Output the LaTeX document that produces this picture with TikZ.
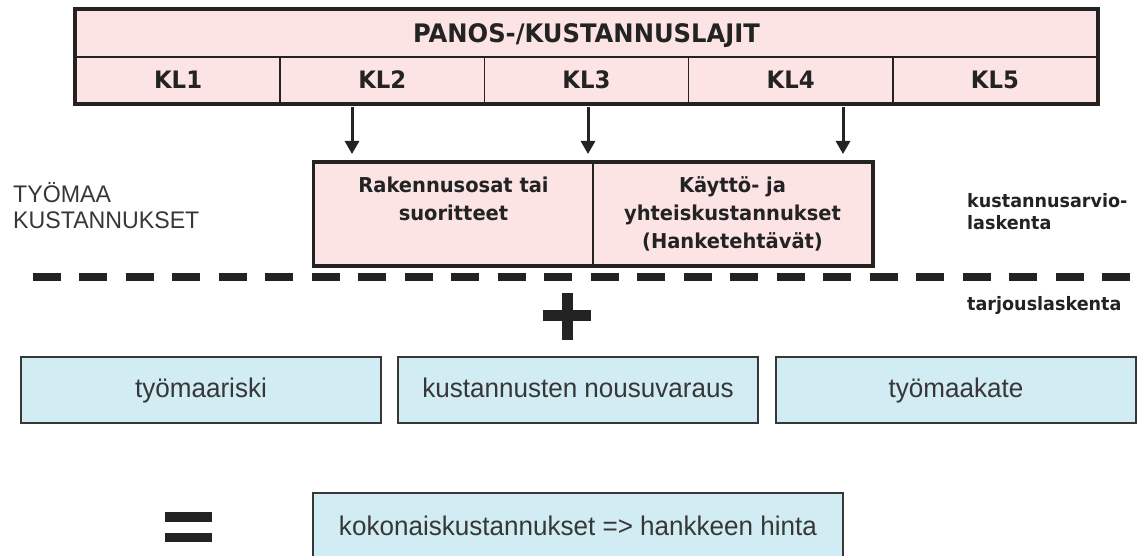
\documentclass[tikz,border=0pt]{standalone}
\usepackage{fontspec}
\usetikzlibrary{arrows.meta}
\newfontfamily\tahfont{DejaVu Sans}[FakeStretch=0.95]
\newfontfamily\arfont{Liberation Sans}[FakeStretch=0.965]
\definecolor{pinkfill}{RGB}{252,228,228}
\definecolor{bluefill}{RGB}{210,236,243}
\definecolor{ink}{RGB}{35,35,35}
\definecolor{greyink}{RGB}{55,55,55}
\tikzset{
  cell/.style={draw=ink, line width=1.5pt, fill=pinkfill, inner sep=0pt, text=ink,
    font=\tahfont\bfseries\fontsize{24}{28}\selectfont, text height=17.5pt, text depth=0pt},
  hdrcell/.style={cell, font=\tahfont\bfseries\fontsize{25.5}{30}\selectfont, text height=18.6pt},
  midcell/.style={draw=ink, line width=1.5pt, fill=pinkfill, inner sep=0pt},
  midtxt/.style={inner sep=0pt, align=center, text=ink, font=\tahfont\bfseries\fontsize{20.5}{28}\selectfont},
  sidetxt/.style={inner sep=0pt, align=left, text=ink, font=\tahfont\bfseries\fontsize{18.5}{22}\selectfont},
  leftlbl/.style={inner sep=0pt, align=left, text=greyink, font=\arfont\fontsize{24}{26}\selectfont},
  lowbox/.style={draw=greyink, line width=1.5pt, fill=bluefill, inner sep=0pt, text=greyink,
    font=\arfont\fontsize{27}{30}\selectfont, text height=14pt, text depth=0pt},
  arr/.style={draw=ink, line width=3pt, -{Triangle[width=14pt,length=13pt]}},
  outline/.style={draw=ink, line width=4pt},
  bar/.style={draw=ink, line width=10.5pt},
}
\begin{document}
\begin{tikzpicture}[x=1pt,y=-1pt]
\useasboundingbox (0,0) rectangle (1138,556);

% top table
\node[hdrcell, minimum width=1021pt, minimum height=47pt] (hdr) at (586.5,33.5) {PANOS-/KUSTANNUSLAJIT};
\node[cell, minimum width=204.2pt, minimum height=46pt] (kl1) at (178.1,80) {KL1};
\node[cell, minimum width=204.2pt, minimum height=46pt] (kl2) at (382.3,80) {KL2};
\node[cell, minimum width=204.2pt, minimum height=46pt] (kl3) at (586.5,80) {KL3};
\node[cell, minimum width=204.2pt, minimum height=46pt] (kl4) at (790.7,80) {KL4};
\node[cell, minimum width=204.2pt, minimum height=46pt] (kl5) at (994.9,80) {KL5};
\draw[outline] (hdr.north west) rectangle (kl5.south east);

% arrows
\coordinate (s2) at (352,107); \coordinate (e2) at (352,154);
\coordinate (s3) at (588,107); \coordinate (e3) at (588,154);
\coordinate (s4) at (843,107); \coordinate (e4) at (843,154);
\draw[arr] (s2) -- (e2);
\draw[arr] (s3) -- (e3);
\draw[arr] (s4) -- (e4);

% middle box
\node[midcell, minimum width=279pt, minimum height=102pt] (rak) at (453.5,214) {};
\node[midcell, minimum width=279pt, minimum height=102pt] (kay) at (732.5,214) {};
\draw[draw=ink, line width=3.5pt] (rak.north west) rectangle (kay.south east);
\node[midtxt, anchor=north] (raktxt) at (453.5,171.5) {\rule{0pt}{20.5pt}Rakennusosat tai\\suoritteet};
\node[midtxt, anchor=north] (kaytxt) at (732.5,171.5) {\rule{0pt}{20.5pt}Käyttö- ja\\yhteiskustannukset\\(Hanketehtävät)};

% side labels
\node[leftlbl, anchor=north west] (tyomaa) at (13,178) {\rule{0pt}{24pt}TYÖMAA\\KUSTANNUKSET};
\node[sidetxt, anchor=north west] (kal) at (967,188.5) {\rule{0pt}{18.5pt}kustannusarvio-\\laskenta};
\node[sidetxt, anchor=north west] (tal) at (967,291.5) {\rule{0pt}{18.5pt}tarjouslaskenta};

% dashed separator
\coordinate (dl) at (32.5,277);
\coordinate (dr) at (1135,277);
\draw[draw=ink, line width=8pt, dash pattern=on 28pt off 18.5pt] (dl) -- (dr);

% plus sign
\draw[bar] (543,315.5) -- (591,315.5);
\draw[bar] (567.5,293) -- (567.5,340);

% lower boxes
\node[lowbox, minimum width=360pt, minimum height=66pt] (risk) at (201,390) {työmaariski};
\node[lowbox, minimum width=360pt, minimum height=66pt] (nous) at (578,390) {kustannusten nousuvaraus};
\node[lowbox, minimum width=360pt, minimum height=66pt] (kate) at (956,390) {työmaakate};

% equals sign
\draw[draw=ink, line width=9.5pt] (165,517) -- (212,517);
\draw[draw=ink, line width=9.5pt] (165,537.5) -- (212,537.5);

% result box
\node[lowbox, minimum width=530pt, minimum height=70pt] (kok) at (578,528) {kokonaiskustannukset => hankkeen hinta};
\end{tikzpicture}
\end{document}
